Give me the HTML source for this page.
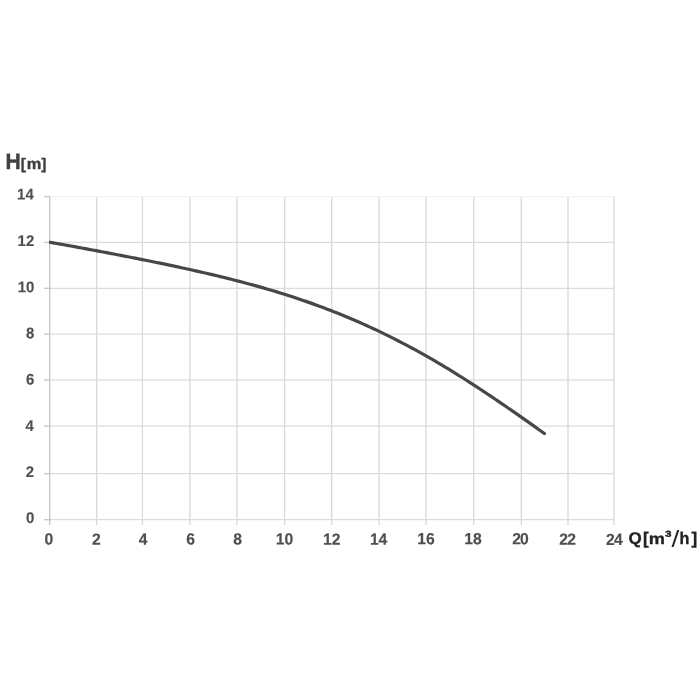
<!DOCTYPE html>
<html><head><meta charset="utf-8"><style>
html,body{margin:0;padding:0;background:#fff;width:700px;height:700px;overflow:hidden}
#w{position:absolute;left:0;top:0;width:700px;height:700px;will-change:transform}
svg{position:absolute;left:0;top:0}
text{font-family:"Liberation Sans",sans-serif;font-weight:bold;text-rendering:geometricPrecision}
.t{font-size:16.2px;fill:#4f4f4f;stroke:#4f4f4f;stroke-width:0.15px;letter-spacing:-0.9px}
.lab{fill:#404040;stroke:#404040;stroke-width:0.4px}
.q{font-size:17px;fill:#222222;stroke:#222222;stroke-width:0.35px}
</style></head><body>
<div id="w"><svg width="700" height="700" viewBox="0 0 700 700">
<line x1="96.7" y1="196.6" x2="96.7" y2="524.9000000000001" stroke="#d9d9d9" stroke-width="1.3"/>
<line x1="142.4" y1="196.6" x2="142.4" y2="524.9000000000001" stroke="#d9d9d9" stroke-width="1.3"/>
<line x1="189.9" y1="196.6" x2="189.9" y2="524.9000000000001" stroke="#d9d9d9" stroke-width="1.3"/>
<line x1="237.0" y1="196.6" x2="237.0" y2="524.9000000000001" stroke="#d9d9d9" stroke-width="1.3"/>
<line x1="284.6" y1="196.6" x2="284.6" y2="524.9000000000001" stroke="#d9d9d9" stroke-width="1.3"/>
<line x1="331.7" y1="196.6" x2="331.7" y2="524.9000000000001" stroke="#d9d9d9" stroke-width="1.3"/>
<line x1="379.0" y1="196.6" x2="379.0" y2="524.9000000000001" stroke="#d9d9d9" stroke-width="1.3"/>
<line x1="426.0" y1="196.6" x2="426.0" y2="524.9000000000001" stroke="#d9d9d9" stroke-width="1.3"/>
<line x1="473.7" y1="196.6" x2="473.7" y2="524.9000000000001" stroke="#d9d9d9" stroke-width="1.3"/>
<line x1="521.3" y1="196.6" x2="521.3" y2="524.9000000000001" stroke="#d9d9d9" stroke-width="1.3"/>
<line x1="568.0" y1="196.6" x2="568.0" y2="524.9000000000001" stroke="#d9d9d9" stroke-width="1.3"/>
<line x1="614.0" y1="196.6" x2="614.0" y2="524.9000000000001" stroke="#d9d9d9" stroke-width="1.3"/>
<line x1="49.7" y1="519.7" x2="614.0" y2="519.7" stroke="#d8dde2" stroke-width="1.3"/>
<line x1="49.7" y1="473.7" x2="614.0" y2="473.7" stroke="#d8dde2" stroke-width="1.3"/>
<line x1="49.7" y1="426.1" x2="614.0" y2="426.1" stroke="#d8dde2" stroke-width="1.3"/>
<line x1="49.7" y1="380.1" x2="614.0" y2="380.1" stroke="#d8dde2" stroke-width="1.3"/>
<line x1="49.7" y1="334.1" x2="614.0" y2="334.1" stroke="#d8dde2" stroke-width="1.3"/>
<line x1="49.7" y1="288.3" x2="614.0" y2="288.3" stroke="#d8dde2" stroke-width="1.3"/>
<line x1="49.7" y1="242.4" x2="614.0" y2="242.4" stroke="#d8dde2" stroke-width="1.3"/>
<line x1="49.7" y1="196.6" x2="614.0" y2="196.6" stroke="#f2f2f2" stroke-width="1.3"/>
<line x1="49.7" y1="196.6" x2="49.7" y2="524.9000000000001" stroke="#c4c4c4" stroke-width="1.3"/>
<line x1="44.2" y1="519.7" x2="49.7" y2="519.7" stroke="#c4c4c4" stroke-width="1.3"/>
<line x1="44.2" y1="473.7" x2="49.7" y2="473.7" stroke="#c4c4c4" stroke-width="1.3"/>
<line x1="44.2" y1="426.1" x2="49.7" y2="426.1" stroke="#c4c4c4" stroke-width="1.3"/>
<line x1="44.2" y1="380.1" x2="49.7" y2="380.1" stroke="#c4c4c4" stroke-width="1.3"/>
<line x1="44.2" y1="334.1" x2="49.7" y2="334.1" stroke="#c4c4c4" stroke-width="1.3"/>
<line x1="44.2" y1="288.3" x2="49.7" y2="288.3" stroke="#c4c4c4" stroke-width="1.3"/>
<line x1="44.2" y1="242.4" x2="49.7" y2="242.4" stroke="#c4c4c4" stroke-width="1.3"/>
<line x1="44.2" y1="196.6" x2="49.7" y2="196.6" stroke="#c4c4c4" stroke-width="1.3"/>
<clipPath id="cp"><rect x="48.9" y="0" width="700" height="700"/></clipPath>
<path d="M49.70,242.24 L53.26,242.86 L56.82,243.49 L60.38,244.12 L63.94,244.76 L67.49,245.40 L71.05,246.04 L74.61,246.69 L78.17,247.34 L81.73,247.99 L85.29,248.65 L88.85,249.31 L92.41,249.98 L95.97,250.64 L99.53,251.31 L103.08,251.98 L106.64,252.66 L110.20,253.34 L113.76,254.02 L117.32,254.70 L120.88,255.39 L124.44,256.08 L128.00,256.77 L131.56,257.47 L135.12,258.17 L138.67,258.88 L142.23,259.58 L145.79,260.30 L149.35,261.01 L152.91,261.73 L156.47,262.46 L160.03,263.19 L163.59,263.93 L167.15,264.67 L170.71,265.41 L174.26,266.17 L177.82,266.92 L181.38,267.69 L184.94,268.46 L188.50,269.24 L192.06,270.03 L195.62,270.82 L199.18,271.62 L202.74,272.44 L206.30,273.26 L209.85,274.09 L213.41,274.92 L216.97,275.77 L220.53,276.63 L224.09,277.50 L227.65,278.38 L231.21,279.28 L234.77,280.18 L238.33,281.10 L241.89,282.03 L245.44,282.97 L249.00,283.93 L252.56,284.90 L256.12,285.88 L259.68,286.88 L263.24,287.89 L266.80,288.92 L270.36,289.97 L273.92,291.03 L277.48,292.11 L281.03,293.20 L284.59,294.32 L288.15,295.45 L291.71,296.59 L295.27,297.76 L298.83,298.95 L302.39,300.15 L305.95,301.38 L309.51,302.62 L313.07,303.88 L316.62,305.17 L320.18,306.47 L323.74,307.80 L327.30,309.15 L330.86,310.52 L334.42,311.91 L337.98,313.33 L341.54,314.76 L345.10,316.22 L348.66,317.70 L352.21,319.21 L355.77,320.74 L359.33,322.29 L362.89,323.87 L366.45,325.47 L370.01,327.09 L373.57,328.74 L377.13,330.41 L380.69,332.11 L384.25,333.83 L387.80,335.57 L391.36,337.34 L394.92,339.14 L398.48,340.96 L402.04,342.80 L405.60,344.67 L409.16,346.56 L412.72,348.48 L416.28,350.42 L419.84,352.38 L423.39,354.37 L426.95,356.38 L430.51,358.42 L434.07,360.48 L437.63,362.56 L441.19,364.67 L444.75,366.80 L448.31,368.95 L451.87,371.12 L455.43,373.31 L458.98,375.53 L462.54,377.77 L466.10,380.02 L469.66,382.30 L473.22,384.59 L476.78,386.91 L480.34,389.24 L483.90,391.59 L487.46,393.96 L491.02,396.34 L494.57,398.74 L498.13,401.15 L501.69,403.58 L505.25,406.02 L508.81,408.48 L512.37,410.94 L515.93,413.42 L519.49,415.90 L523.05,418.40 L526.61,420.90 L530.16,423.41 L533.72,425.93 L537.28,428.45 L540.84,430.97 L544.40,433.50" fill="none" stroke="#474747" stroke-width="3.2" stroke-linecap="round" stroke-linejoin="round" clip-path="url(#cp)"/>
<text transform="translate(48.53,544.54) rotate(0.05) scale(0.97,1)" text-anchor="middle" class="t">0</text>
<text transform="translate(95.87,544.73) rotate(0.05) scale(0.97,1)" text-anchor="middle" class="t">2</text>
<text transform="translate(142.75,544.87) rotate(0.05) scale(0.97,1)" text-anchor="middle" class="t">4</text>
<text transform="translate(190.10,544.39) rotate(0.05) scale(0.97,1)" text-anchor="middle" class="t">6</text>
<text transform="translate(237.16,544.50) rotate(0.05) scale(0.97,1)" text-anchor="middle" class="t">8</text>
<text transform="translate(284.06,544.42) rotate(0.05) scale(0.97,1)" text-anchor="middle" class="t">1<tspan dx="0.9">0</tspan></text>
<text transform="translate(331.22,544.71) rotate(0.05) scale(0.97,1)" text-anchor="middle" class="t">1<tspan dx="0.9">2</tspan></text>
<text transform="translate(378.19,544.82) rotate(0.05) scale(0.97,1)" text-anchor="middle" class="t">1<tspan dx="0.9">4</tspan></text>
<text transform="translate(425.47,544.37) rotate(0.05) scale(0.97,1)" text-anchor="middle" class="t">1<tspan dx="0.9">6</tspan></text>
<text transform="translate(472.56,544.33) rotate(0.05) scale(0.97,1)" text-anchor="middle" class="t">1<tspan dx="0.9">8</tspan></text>
<text transform="translate(520.10,544.37) rotate(0.05) scale(0.97,1)" text-anchor="middle" class="t">20</text>
<text transform="translate(567.18,544.79) rotate(0.05) scale(0.97,1)" text-anchor="middle" class="t">22</text>
<text transform="translate(613.91,544.89) rotate(0.05) scale(0.97,1)" text-anchor="middle" class="t">24</text>
<text transform="translate(33.52,523.06) rotate(0.05) scale(0.97,1)" text-anchor="end" class="t" style="font-size:15.4px">0</text>
<text transform="translate(33.29,477.07) rotate(0.05) scale(0.97,1)" text-anchor="end" class="t" style="font-size:15.4px">2</text>
<text transform="translate(33.03,430.96) rotate(0.05) scale(0.97,1)" text-anchor="end" class="t" style="font-size:15.4px">4</text>
<text transform="translate(33.53,384.44) rotate(0.05) scale(0.97,1)" text-anchor="end" class="t" style="font-size:15.4px">6</text>
<text transform="translate(33.35,338.20) rotate(0.05) scale(0.97,1)" text-anchor="end" class="t" style="font-size:15.4px">8</text>
<text transform="translate(33.49,292.21) rotate(0.05) scale(0.97,1)" text-anchor="end" class="t" style="font-size:15.4px">1<tspan dx="0.9">0</tspan></text>
<text transform="translate(33.36,245.98) rotate(0.05) scale(0.97,1)" text-anchor="end" class="t" style="font-size:15.4px">1<tspan dx="0.9">2</tspan></text>
<text transform="translate(32.83,199.60) rotate(0.05) scale(0.97,1)" text-anchor="end" class="t" style="font-size:15.4px">1<tspan dx="0.9">4</tspan></text>
<text transform="translate(5.62,169.1) rotate(0.05) scale(0.947,1)" style="font-size:22.3px" class="lab">H</text>
<text transform="translate(20.74,169.1) rotate(0.05)" style="font-size:15.3px" class="lab">[</text>
<text transform="translate(26.65,169.1) rotate(0.05) scale(1.07,1)" style="font-size:15.3px" class="lab">m</text>
<text transform="translate(41.2,169.1) rotate(0.05)" style="font-size:15.3px" class="lab">]</text>
<text transform="translate(628.6,544.1) rotate(0.05)" class="q">Q</text>
<text transform="translate(642.9,544.1) rotate(0.05)" class="q">[</text>
<text transform="translate(648.8,544.1) rotate(0.05) scale(1.07,0.92)" class="q">m</text>
<text transform="translate(665.2,536.7) rotate(0.05) scale(1.3,1)" class="q" style="font-size:8.6px;stroke-width:0.5px">3</text>
<polygon points="677.2,530.1 679.3,530.1 673.6,547.0 671.5,547.0" fill="#222"/>
<text transform="translate(679.6,544.1) rotate(0.05) scale(0.95,1)" class="q">h</text>
<text transform="translate(691.5,544.1) rotate(0.05)" class="q">]</text>
</svg></div>
</body></html>
